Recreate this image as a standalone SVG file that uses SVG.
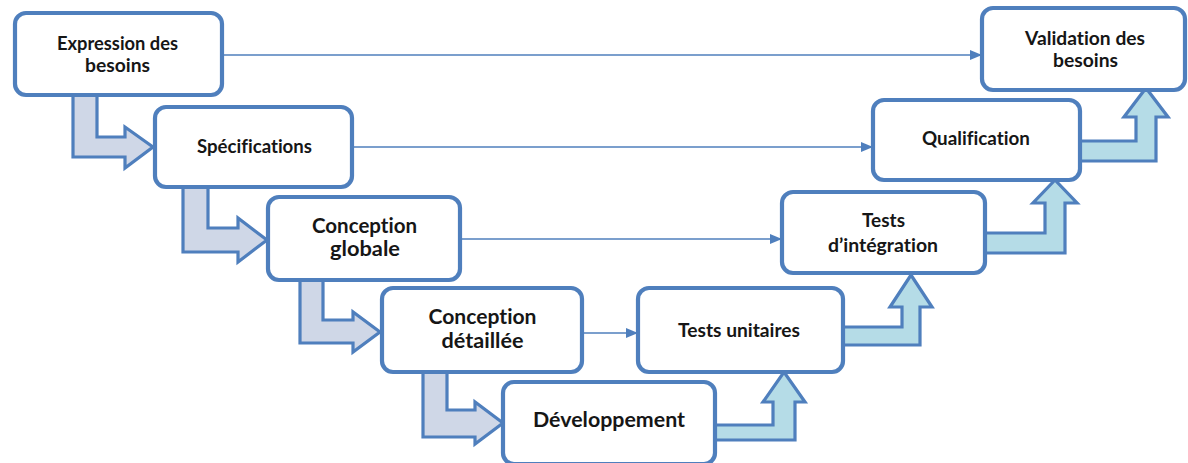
<svg xmlns="http://www.w3.org/2000/svg" width="1188" height="463" viewBox="0 0 1188 463">
<defs>
<style>
.box{fill:#fff;stroke:#4f7fbd;stroke-width:4.2}
.dn{fill:#cfd7e7;stroke:#4f7fbd;stroke-width:3.2;stroke-linejoin:miter}
.up{fill:#b5dce7;stroke:#4f7fbd;stroke-width:3.2;stroke-linejoin:miter}
.ln{stroke:#4f7fbd;stroke-width:1.5;fill:none}
text{font-family:Lato,"Open Sans","Liberation Sans",sans-serif;font-weight:bold;fill:#161616;text-anchor:middle;font-variant-ligatures:none;font-feature-settings:"liga" 0,"clig" 0,"dlig" 0}
.s{font-size:18.5px}
.l{font-size:21px}
</style>
<marker id="ah" markerWidth="12" markerHeight="10" refX="11" refY="5" orient="auto" markerUnits="userSpaceOnUse">
<path d="M0,0 L12,5 L0,10 Z" fill="#4f7fbd"/>
</marker>
</defs>
<rect width="1188" height="463" fill="#fff"/>
<g id="connectors">
<path class="dn" d="M73,93 L73,157 L125,157 L125,168 L153,147 L125,127 L125,137 L97,137 L97,93 Z"/>
<path class="dn" d="M183,185 L183,252 L238,252 L238,262 L267,240 L238,218 L238,228 L208,228 L208,185 Z"/>
<path class="dn" d="M300,278 L300,343 L353,343 L353,352 L380,332 L353,312 L353,320 L323,320 L323,278 Z"/>
<path class="dn" d="M423,370 L423,437 L475,437 L475,444 L503,423 L475,402 L475,410 L447,410 L447,370 Z"/>
<path class="up" d="M713,425 L773,425 L773,402 L763,402 L784,372 L805,402 L795,402 L795,440 L713,440 Z"/>
<path class="up" d="M841,327 L902,327 L902,307 L890,307 L911,275 L932,307 L920,307 L920,345 L841,345 Z"/>
<path class="up" d="M983,233 L1045,233 L1045,203 L1033,203 L1055,180 L1077,203 L1065,203 L1065,253 L983,253 Z"/>
<path class="up" d="M1078,141 L1136,141 L1136,117 L1124,117 L1146,88 L1168,117 L1156,117 L1156,161 L1078,161 Z"/>
<line class="ln" x1="224" y1="55" x2="981" y2="55" marker-end="url(#ah)"/>
<line class="ln" x1="354" y1="147" x2="872" y2="147" marker-end="url(#ah)"/>
<line class="ln" x1="462" y1="239" x2="781" y2="239" marker-end="url(#ah)"/>
<line class="ln" x1="584" y1="333" x2="637" y2="333" marker-end="url(#ah)"/>
</g>
<g id="n1"><rect class="box" x="15" y="13" width="207" height="82" rx="11"/><text class="s" x="117.5" y="50" textLength="121" lengthAdjust="spacingAndGlyphs">Expression des</text><text class="s" x="117.5" y="72" textLength="65" lengthAdjust="spacingAndGlyphs">besoins</text></g>
<g id="n2"><rect class="box" x="155" y="107" width="197" height="80" rx="11"/><text class="s" x="254.5" y="153" textLength="115" lengthAdjust="spacingAndGlyphs">Spécifications</text></g>
<g id="n3"><rect class="box" x="268" y="197" width="192" height="83" rx="11"/><text class="l" x="364.5" y="232.5" textLength="105" lengthAdjust="spacingAndGlyphs">Conception</text><text class="l" x="365" y="256" textLength="70" lengthAdjust="spacingAndGlyphs">globale</text></g>
<g id="n4"><rect class="box" x="382" y="288" width="200" height="84" rx="11"/><text class="l" x="482.5" y="324" textLength="108" lengthAdjust="spacingAndGlyphs">Conception</text><text class="l" x="482.5" y="348" textLength="82" lengthAdjust="spacingAndGlyphs">détaillée</text></g>
<g id="n5"><rect class="box" x="503" y="382" width="212" height="82" rx="11"/><text class="l" x="609" y="427" textLength="152" lengthAdjust="spacingAndGlyphs">Développement</text></g>
<g id="n6"><rect class="box" x="638" y="288" width="205" height="84" rx="11"/><text class="s" x="739" y="337" textLength="122" lengthAdjust="spacingAndGlyphs">Tests unitaires</text></g>
<g id="n7"><rect class="box" x="782" y="192" width="203" height="81" rx="11"/><text class="s" x="883.5" y="227" textLength="43" lengthAdjust="spacingAndGlyphs">Tests</text><text class="s" x="883" y="252" textLength="110" lengthAdjust="spacingAndGlyphs">d’intégration</text></g>
<g id="n8"><rect class="box" x="873" y="100" width="207" height="80" rx="11"/><text class="s" x="976" y="145" textLength="108" lengthAdjust="spacingAndGlyphs">Qualification</text></g>
<g id="n9"><rect class="box" x="982" y="8" width="203" height="82" rx="11"/><text class="s" x="1085" y="45" textLength="120" lengthAdjust="spacingAndGlyphs">Validation des</text><text class="s" x="1085.5" y="67" textLength="65" lengthAdjust="spacingAndGlyphs">besoins</text></g>
</svg>
